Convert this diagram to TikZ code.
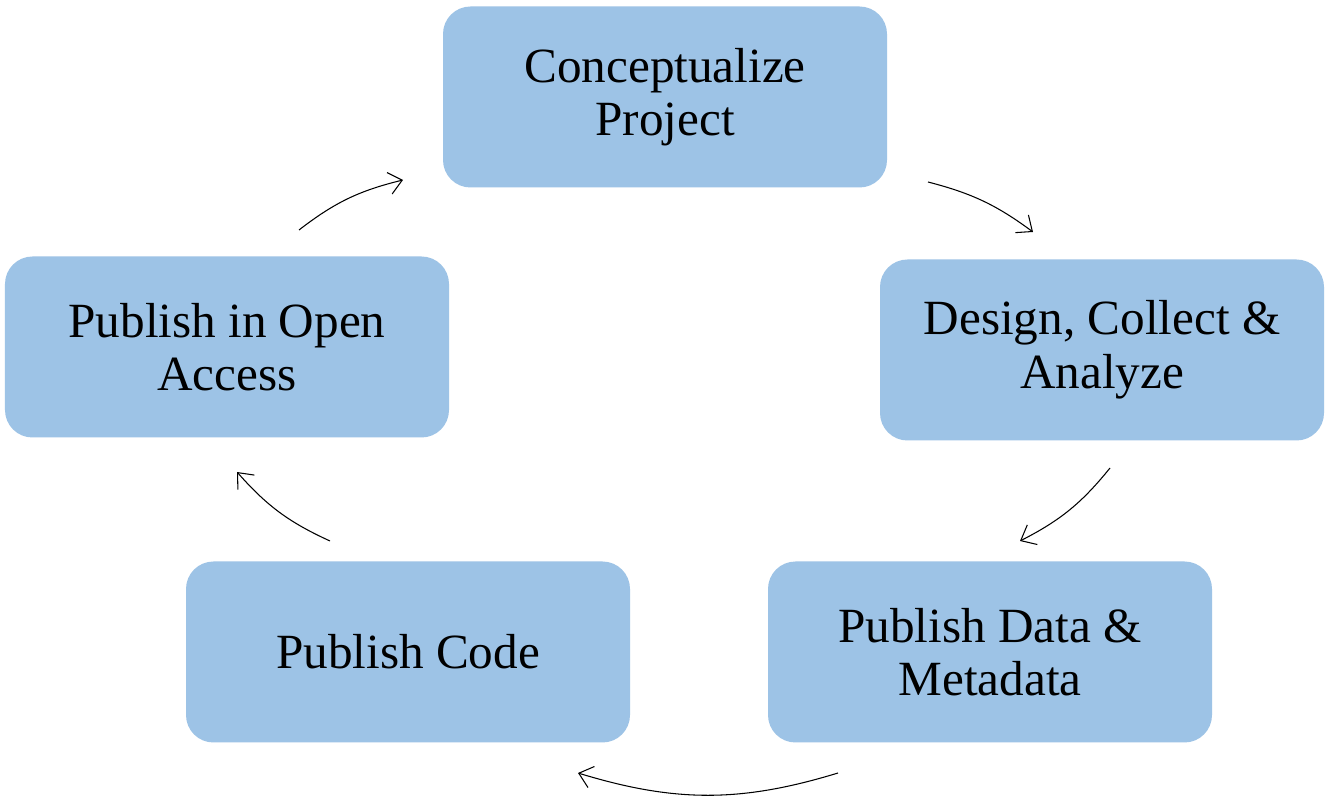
\documentclass[tikz,border=0pt]{standalone}
\usepackage{fontspec}
\setmainfont{Liberation Serif}
\usetikzlibrary{arrows.meta,positioning}
\tikzset{>={Straight Barb[length=2.6mm,width=4.4mm]}}
\definecolor{boxblue}{HTML}{9DC3E6}

\begin{document}
\begin{tikzpicture}[
    stage/.style={rectangle, rounded corners=0.55cm, fill=boxblue,
      minimum width=8.88cm, minimum height=3.62cm, align=center,
      font=\fontsize{28}{30.5}\selectfont},
    flow/.style={->, line width=0.6pt}
  ]
  \useasboundingbox[fill=white] (0,0) rectangle (26.6,16.1);
  % stages of the cycle
  \node[stage] (concept) at (13.3,14.16) {Conceptualize\\Project};
  \node[stage] (design)  at (22.04,9.1)  {Design, Collect \&\\Analyze};
  \node[stage] (data)    at (19.8,3.06)  {Publish Data \&\\Metadata};
  \node[stage] (code)    at (8.16,3.06)  {Publish Code};
  \node[stage] (access)  at (4.54,9.16)  {Publish in Open\\Access};
  % free ends of the arrows
  \coordinate (a1) at (18.56,12.46);
  \coordinate (b1) at (20.66,11.46);
  \coordinate (a2) at (22.2,6.74);
  \coordinate (b2) at (20.4,5.28);
  \coordinate (a3) at (16.76,0.64);
  \coordinate (b3) at (11.56,0.64);
  \coordinate (a4) at (6.6,5.28);
  \coordinate (b4) at (4.74,6.66);
  \coordinate (a5) at (5.98,11.5);
  \coordinate (b5) at (8.06,12.5);
  %
  \foreach \i/\b in {1/11,2/12,3/17,4/12,5/12} {%
    \draw[flow] (a\i) to[bend left=\b] (b\i);
  }
\end{tikzpicture}
\end{document}
